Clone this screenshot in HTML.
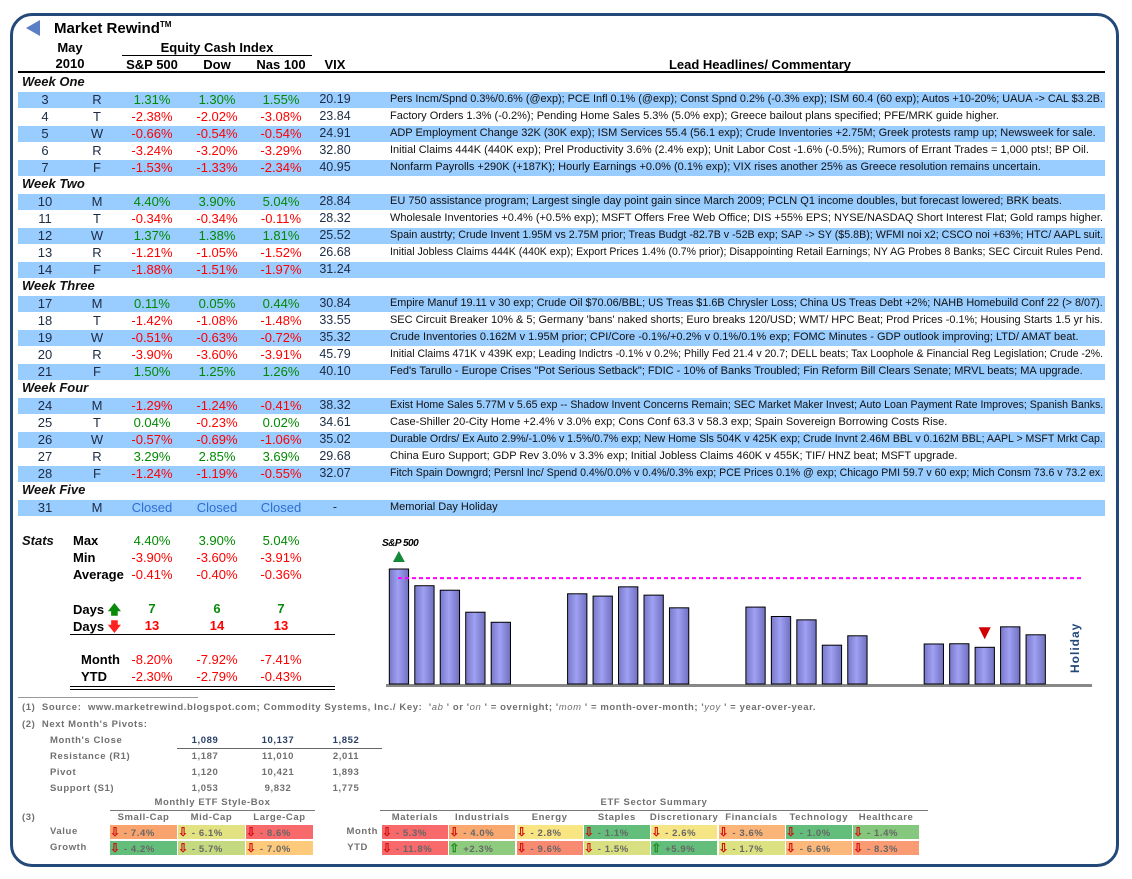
<!DOCTYPE html>
<html><head><meta charset="utf-8">
<style>
body{margin:0;width:1132px;height:879px;background:#fff;position:relative;overflow:hidden;font-family:"Liberation Sans",Arial,sans-serif;}
.a{position:absolute;white-space:nowrap;}
.frame{position:absolute;left:10px;top:13px;width:1103px;height:848px;border:3px solid #23497a;border-radius:22px;}
.b{font-weight:bold;}
.c{text-align:center;}
.r{text-align:right;}
.band{position:absolute;left:18px;width:1087px;height:16px;background:#99ccff;}
.wk{font-weight:bold;font-style:italic;font-size:13px;color:#111;}
.num{font-size:13px;}
.hl{font-size:11px;color:#111;}
.ft{font-size:9.5px;color:#707070;font-weight:bold;letter-spacing:0.6px;}
.cell{position:absolute;height:14px;font-size:9.5px;color:#666;font-weight:bold;letter-spacing:0.6px;line-height:14px;}
</style></head><body>
<div class="frame"></div>
<svg class="a" style="left:24px;top:19px" width="18" height="18"><polygon points="2,9 16,1 16,17" fill="#5b7fc4"/></svg>
<div class="a b" style="left:54px;top:20px;font-size:15px">Market Rewind<span style="font-size:8px;vertical-align:top">TM</span></div>
<div class="a b c" style="left:40px;top:40px;width:60px;font-size:13px">May</div>
<div class="a b c" style="left:40px;top:56px;width:60px;font-size:13px">2010</div>
<div class="a b c" style="left:122px;top:40px;width:190px;font-size:13px">Equity Cash Index</div>
<div class="a" style="left:122px;top:55px;width:190px;height:1px;background:#000"></div>
<div class="a b c" style="left:112px;top:57px;width:80px;font-size:13px">S&amp;P 500</div>
<div class="a b c" style="left:187px;top:57px;width:60px;font-size:13px">Dow</div>
<div class="a b c" style="left:241px;top:57px;width:80px;font-size:13px">Nas 100</div>
<div class="a b c" style="left:310px;top:57px;width:50px;font-size:13px">VIX</div>
<div class="a b c" style="left:600px;top:57px;width:320px;font-size:13px">Lead Headlines/ Commentary</div>
<div class="a" style="left:18px;top:71px;width:1087px;height:2px;background:#000"></div>
<div id="tbl"></div>

<div class="a wk" style="left:22px;top:533px">Stats</div>
<div id="stats"></div>
<div class="a" style="left:70px;top:634px;width:265px;height:1px;background:#000"></div>
<div class="a" style="left:70px;top:686px;width:265px;height:1px;background:#000"></div>
<div class="a" style="left:70px;top:689px;width:265px;height:1px;background:#000"></div>

<svg id="chart" class="a" style="left:0;top:0" width="1132" height="879"></svg>

<div class="a" style="left:18px;top:697px;width:180px;height:1px;background:#999"></div>
<div class="a ft" style="left:22px;top:702px">(1)&nbsp; Source:&nbsp; www.marketrewind.blogspot.com; Commodity Systems, Inc./ Key:&nbsp; '<i style="font-weight:normal">ab</i> ' or '<i style="font-weight:normal">on</i> ' = overnight; '<i style="font-weight:normal">mom</i> ' = month-over-month; '<i style="font-weight:normal">yoy</i> ' = year-over-year.</div>
<div class="a ft" style="left:22px;top:719px">(2)&nbsp; Next Month's Pivots:</div>
<div id="piv"></div>
<div class="a" style="left:177px;top:748px;width:205px;height:1px;background:#666"></div>
<div class="a ft c" style="left:110px;top:797px;width:205px">Monthly ETF Style-Box</div>
<div class="a" style="left:110px;top:810px;width:205px;height:1px;background:#777"></div>
<div class="a ft" style="left:22px;top:812px">(3)</div>
<div class="a ft c" style="left:380px;top:797px;width:548px">ETF Sector Summary</div>
<div class="a" style="left:380px;top:810px;width:548px;height:1px;background:#777"></div>
<div id="etf"></div>

<script>
const weeks=["Week One","Week Two","Week Three","Week Four","Week Five"];
const rows=[
[0,3,"R","1.31%","1.30%","1.55%","20.19","Pers Incm/Spnd 0.3%/0.6% (@exp); PCE Infl 0.1% (@exp); Const Spnd 0.2% (-0.3% exp); ISM 60.4 (60 exp); Autos +10-20%; UAUA -> CAL $3.2B."],
[0,4,"T","-2.38%","-2.02%","-3.08%","23.84","Factory Orders 1.3% (-0.2%); Pending Home Sales 5.3% (5.0% exp); Greece bailout plans specified; PFE/MRK guide higher."],
[0,5,"W","-0.66%","-0.54%","-0.54%","24.91","ADP Employment Change 32K (30K exp); ISM Services 55.4 (56.1 exp); Crude Inventories +2.75M; Greek protests ramp up; Newsweek for sale."],
[0,6,"R","-3.24%","-3.20%","-3.29%","32.80","Initial Claims 444K (440K exp); Prel Productivity 3.6% (2.4% exp); Unit Labor Cost -1.6% (-0.5%); Rumors of Errant Trades = 1,000 pts!; BP Oil."],
[0,7,"F","-1.53%","-1.33%","-2.34%","40.95","Nonfarm Payrolls +290K (+187K); Hourly Earnings +0.0% (0.1% exp); VIX rises another 25% as Greece resolution remains uncertain."],
[1,10,"M","4.40%","3.90%","5.04%","28.84","EU 750 assistance program; Largest single day point gain since March 2009; PCLN Q1 income doubles, but forecast lowered; BRK beats."],
[1,11,"T","-0.34%","-0.34%","-0.11%","28.32","Wholesale Inventories +0.4% (+0.5% exp); MSFT Offers Free Web Office; DIS +55% EPS; NYSE/NASDAQ Short Interest Flat; Gold ramps higher."],
[1,12,"W","1.37%","1.38%","1.81%","25.52","Spain austrty; Crude Invent 1.95M vs 2.75M prior; Treas Budgt -82.7B v -52B exp; SAP -> SY ($5.8B); WFMI noi x2; CSCO noi +63%; HTC/ AAPL suit."],
[1,13,"R","-1.21%","-1.05%","-1.52%","26.68","Initial Jobless Claims 444K (440K exp); Export Prices 1.4% (0.7% prior); Disappointing Retail Earnings; NY AG Probes 8 Banks; SEC Circuit Rules Pend."],
[1,14,"F","-1.88%","-1.51%","-1.97%","31.24",""],
[2,17,"M","0.11%","0.05%","0.44%","30.84","Empire Manuf 19.11 v 30 exp; Crude Oil $70.06/BBL; US Treas $1.6B Chrysler Loss; China US Treas Debt +2%; NAHB Homebuild Conf 22 (> 8/07)."],
[2,18,"T","-1.42%","-1.08%","-1.48%","33.55","SEC Circuit Breaker 10% & 5; Germany 'bans' naked shorts; Euro breaks 120/USD; WMT/ HPC Beat; Prod Prices -0.1%; Housing Starts 1.5 yr his."],
[2,19,"W","-0.51%","-0.63%","-0.72%","35.32","Crude Inventories 0.162M v 1.95M prior; CPI/Core -0.1%/+0.2% v 0.1%/0.1% exp; FOMC Minutes - GDP outlook improving; LTD/ AMAT beat."],
[2,20,"R","-3.90%","-3.60%","-3.91%","45.79","Initial Claims 471K v 439K exp; Leading Indictrs -0.1% v 0.2%; Philly Fed 21.4 v 20.7; DELL beats; Tax Loophole & Financial Reg Legislation; Crude -2%."],
[2,21,"F","1.50%","1.25%","1.26%","40.10","Fed's Tarullo - Europe Crises \"Pot Serious Setback\"; FDIC - 10% of Banks Troubled; Fin Reform Bill Clears Senate; MRVL beats; MA upgrade."],
[3,24,"M","-1.29%","-1.24%","-0.41%","38.32","Exist Home Sales 5.77M v 5.65 exp -- Shadow Invent Concerns Remain; SEC Market Maker Invest; Auto Loan Payment Rate Improves; Spanish Banks."],
[3,25,"T","0.04%","-0.23%","0.02%","34.61","Case-Shiller 20-City Home +2.4% v 3.0% exp; Cons Conf 63.3 v 58.3 exp; Spain Sovereign Borrowing Costs Rise."],
[3,26,"W","-0.57%","-0.69%","-1.06%","35.02","Durable Ordrs/ Ex Auto 2.9%/-1.0% v 1.5%/0.7% exp; New Home Sls 504K v 425K exp; Crude Invnt 2.46M BBL v 0.162M BBL; AAPL > MSFT Mrkt Cap."],
[3,27,"R","3.29%","2.85%","3.69%","29.68","China Euro Support; GDP Rev 3.0% v 3.3% exp; Initial Jobless Claims 460K v 455K; TIF/ HNZ beat; MSFT upgrade."],
[3,28,"F","-1.24%","-1.19%","-0.55%","32.07","Fitch Spain Downgrd; Persnl Inc/ Spend 0.4%/0.0% v 0.4%/0.3% exp; PCE Prices 0.1% @ exp; Chicago PMI 59.7 v 60 exp; Mich Consm 73.6 v 73.2 ex."],
[4,31,"M","Closed","Closed","Closed","-","Memorial Day Holiday"]
];
function mk(parent,cls,style,html,name,inter){const d=document.createElement('div');d.className='a '+cls;d.style.cssText=style;d.innerHTML=html;


parent.appendChild(d);return d;}
function col(v){if(v==="Closed")return"color:#2f6fd0";return v.charAt(0)==='-'?"color:#ff0000":"color:#008a00";}
const T=document.getElementById('tbl');
let y=74,cw=-1,idx=0;
rows.forEach(r=>{
 if(r[0]!==cw){cw=r[0];idx=0;mk(T,'wk','left:22px;top:'+(y)+'px',weeks[cw],'week-label',false);y+=17;}
 if(idx%2===0){mk(T,'band','top:'+(y+1)+'px','','row-band',false);}
 const t=y+1;
 mk(T,'c','left:25px;top:'+t+'px;width:40px;font-size:13px;color:#1d2c44',r[1],'day-number',false);
 mk(T,'c','left:82px;top:'+t+'px;width:30px;font-size:13px;color:#1d2c44',r[2],'weekday-letter',false);
 [[112,3,'sp500-change'],[187,4,'dow-change'],[241,5,'nas100-change']].forEach(c=>{
  const w=c[0]===187?60:80;
  mk(T,'c num','left:'+c[0]+'px;top:'+t+'px;width:'+w+'px;'+col(r[c[1]]),r[c[1]],c[2],false);});
 mk(T,'c','left:310px;top:'+t+'px;width:50px;font-size:12.5px;color:#1d2c44',r[6],'vix-value',false);
 mk(T,'hl','left:390px;top:'+(t+1)+'px',r[7].replace(/&/g,'&amp;').replace(/</g,'&lt;').replace(/>/g,'&gt;'),'headline',false);
 y+=17;idx++;
});
document.querySelectorAll('.hl').forEach(h=>{const w=h.scrollWidth;if(w>713){h.style.transformOrigin='0 0';h.style.transform='scaleX('+(713/w)+')';}});

const statLabels=["Max","Min","Average"];
const statSP=["4.40%","-3.90%","-0.41%"],statDow=["3.90%","-3.60%","-0.40%"],statNas=["5.04%","-3.91%","-0.36%"];
const S=document.getElementById('stats');
statLabels.forEach((l,i)=>{const t=533+i*17;
 mk(S,'b','left:73px;top:'+t+'px;font-size:13px',l,'stat-label',false);
 [[112,statSP],[187,statDow],[241,statNas]].forEach(c=>{const w=c[0]===187?60:80;
  mk(S,'c','left:'+c[0]+'px;top:'+t+'px;width:'+w+'px;font-size:13px;'+col(c[1][i]),c[1][i],'stat-value',false);});});
const upDays=["7","6","7"],downDays=["13","14","13"];
mk(S,'b','left:73px;top:601px;font-size:13px','Days <span style="color:#0a8a0a">&#129093;</span>','days-up-label',false);
mk(S,'b','left:73px;top:618px;font-size:13px','Days <span style="color:#ff2020">&#129095;</span>','days-down-label',false);
[112,187,241].forEach((x,i)=>{const w=x===187?60:80;
 mk(S,'c b','left:'+x+'px;top:601px;width:'+w+'px;font-size:13px;color:#0a8a0a',upDays[i],'days-up-value',false);
 mk(S,'c b','left:'+x+'px;top:618px;width:'+w+'px;font-size:13px;color:#ff0000',downDays[i],'days-down-value',false);});
const monthVals=["-8.20%","-7.92%","-7.41%"],ytdVals=["-2.30%","-2.79%","-0.43%"];
mk(S,'b','left:81px;top:652px;font-size:13px','Month','month-label',false);
mk(S,'b','left:81px;top:669px;font-size:13px','YTD','ytd-label',false);
[112,187,241].forEach((x,i)=>{const w=x===187?60:80;
 mk(S,'c','left:'+x+'px;top:652px;width:'+w+'px;font-size:13px;'+col(monthVals[i]),monthVals[i],'month-value',false);
 mk(S,'c','left:'+x+'px;top:669px;width:'+w+'px;font-size:13px;'+col(ytdVals[i]),ytdVals[i],'ytd-value',false);});

const chartDays=[3,4,5,6,7,10,11,12,13,14,17,18,19,20,21,24,25,26,27,28];
const chartCloses=[1202.26,1173.60,1165.87,1128.15,1110.88,1159.73,1155.79,1171.67,1157.44,1135.68,1136.94,1120.80,1115.05,1071.59,1087.69,1073.65,1074.03,1067.95,1103.06,1089.41];
const priorClose=[1186.69];
const NS='http://www.w3.org/2000/svg';
const svg=document.getElementById('chart');
const yMin=1005,yMax=1202.26,yBase=684,yTop=569;
function ys(v){return yBase-(v-yMin)/(yMax-yMin)*(yBase-yTop);}
function xs(d){return 389.3+(d-3)*25.47;}
function el(tag,attrs){const e=document.createElementNS(NS,tag);for(const k in attrs)e.setAttribute(k,attrs[k]);svg.appendChild(e);return e;}
const defs=document.createElementNS(NS,'defs');defs.innerHTML='<linearGradient id="bg" x1="0" x2="1"><stop offset="0" stop-color="#7878c8"/><stop offset="0.45" stop-color="#a0a0f4"/><stop offset="1" stop-color="#7070c0"/></linearGradient>';svg.appendChild(defs);
const bx=el('line',{x1:386,x2:1092,y1:yBase+1.5,y2:yBase+1.5,stroke:'#888',"stroke-width":3});


let maxI=0,minI=0;
chartCloses.forEach((v,i)=>{
 if(v>chartCloses[maxI])maxI=i;if(v<chartCloses[minI])minI=i;
 const r=el('rect',{x:xs(chartDays[i]),y:ys(v),width:19.3,height:yBase-ys(v),fill:'url(#bg)',stroke:'#000',"stroke-width":1});
 
 
});
const dl=el('line',{x1:398,x2:1084,y1:ys(priorClose[0]),y2:ys(priorClose[0]),stroke:'#ff00ff',"stroke-width":2,"stroke-dasharray":"4,3"});


const mx=xs(chartDays[maxI])+9.6,my=ys(chartCloses[maxI]);
const up=el('polygon',{points:(mx-6)+','+(my-7)+' '+(mx+6)+','+(my-7)+' '+mx+','+(my-18),fill:'#138a3a'});


const nx=xs(chartDays[minI])+9.6,ny=ys(chartCloses[minI]);
const dn=el('polygon',{points:(nx-6)+','+(ny-20)+' '+(nx+6)+','+(ny-20)+' '+nx+','+(ny-8),fill:'#d00000'});


const lt=el('text',{x:382,y:546,"font-size":10,"font-weight":"bold","font-style":"italic","font-family":"Liberation Sans, sans-serif",fill:'#000',"letter-spacing":"-0.5"});lt.textContent='S&P 500';


const ht=el('text',{x:0,y:0,"font-size":12,"font-weight":"bold","font-family":"Liberation Sans, sans-serif",fill:'#23497a',transform:'translate(1079,673) rotate(-90)',"letter-spacing":"1"});ht.textContent='Holiday';



const pivLabels=["Month's Close","Resistance (R1)","Pivot","Support (S1)"];
const pivSP=["1,089","1,187","1,120","1,053"],pivDow=["10,137","11,010","10,421","9,832"],pivNas=["1,852","2,011","1,893","1,775"];
const P=document.getElementById('piv');
pivLabels.forEach((l,i)=>{const t=735+i*16;const c=i===0?'color:#2a3f66;':'';
 mk(P,'ft','left:50px;top:'+t+'px',l,'pivot-label',false);
 mk(P,'ft c','left:175px;top:'+t+'px;width:60px;'+c,pivSP[i],'pivot-sp500',false);
 mk(P,'ft c','left:245px;top:'+t+'px;width:66px;'+c,pivDow[i],'pivot-dow',false);
 mk(P,'ft c','left:316px;top:'+t+'px;width:60px;'+c,pivNas[i],'pivot-nas100',false);});

const E=document.getElementById('etf');
const styleCols=["Small-Cap","Mid-Cap","Large-Cap"];
const styleValue=["-7.4%","-6.1%","-8.6%"],styleGrowth=["-4.2%","-5.7%","-7.0%"];
const styleValueCol=["#f9a46f","#e2e282","#f8696b"],styleGrowthCol=["#63be7b","#c5da80","#fdc97b"];
const sectors=["Materials","Industrials","Energy","Staples","Discretionary","Financials","Technology","Healthcare"];
const secMonth=["-5.3%","-4.0%","-2.8%","-1.1%","-2.6%","-3.6%","-1.0%","-1.4%"],secYTD=["-11.8%","+2.3%","-9.6%","-1.5%","+5.9%","-1.7%","-6.6%","-8.3%"];
const secMonthCol=["#f8696b","#f9a870","#fae583","#63be7b","#f5e584","#fcb578","#63be7b","#85c87d"],secYTDCol=["#f8696b","#8fcb7e","#f98a72","#d8e081","#63be7b","#dce181","#fcb77a","#fa9b74"];
function arrow(v){return v.charAt(0)==='+'?'<span style="color:#1a8a1a;font-size:12px">&#8679;</span>':'<span style="color:#d01010;font-size:12px">&#8681;</span>';}
function fmt(v){return v.charAt(0)==='-'?'- '+v.slice(1):v;}
mk(E,'ft','left:50px;top:826px','Value','value-label',false);
mk(E,'ft','left:50px;top:842px','Growth','growth-label',false);
styleCols.forEach((s,i)=>{const x=110+i*68;
 mk(E,'ft c','left:'+x+'px;top:812px;width:67px',s,'style-box-header',false);
 mk(E,'cell','left:'+x+'px;top:825px;width:67px;background:'+styleValueCol[i],' '+arrow(styleValue[i])+' '+fmt(styleValue[i]),'style-value-cell',false);
 mk(E,'cell','left:'+x+'px;top:841px;width:67px;background:'+styleGrowthCol[i],' '+arrow(styleGrowth[i])+' '+fmt(styleGrowth[i]),'style-growth-cell',false);});
mk(E,'ft r','left:330px;top:826px;width:48px','Month','sector-month-label',false);
mk(E,'ft r','left:330px;top:842px;width:38px','YTD','sector-ytd-label',false);
sectors.forEach((s,i)=>{const x=382+i*67.3;
 mk(E,'ft c','left:'+(x-3)+'px;top:812px;width:72px',s,'sector-header',false);
 mk(E,'cell','left:'+x+'px;top:825px;width:66px;background:'+secMonthCol[i],' '+arrow(secMonth[i])+' '+fmt(secMonth[i]),'sector-month-cell',false);
 mk(E,'cell','left:'+x+'px;top:841px;width:66px;background:'+secYTDCol[i],' '+arrow(secYTD[i])+' '+fmt(secYTD[i]),'sector-ytd-cell',false);});
</script>
</body></html>
